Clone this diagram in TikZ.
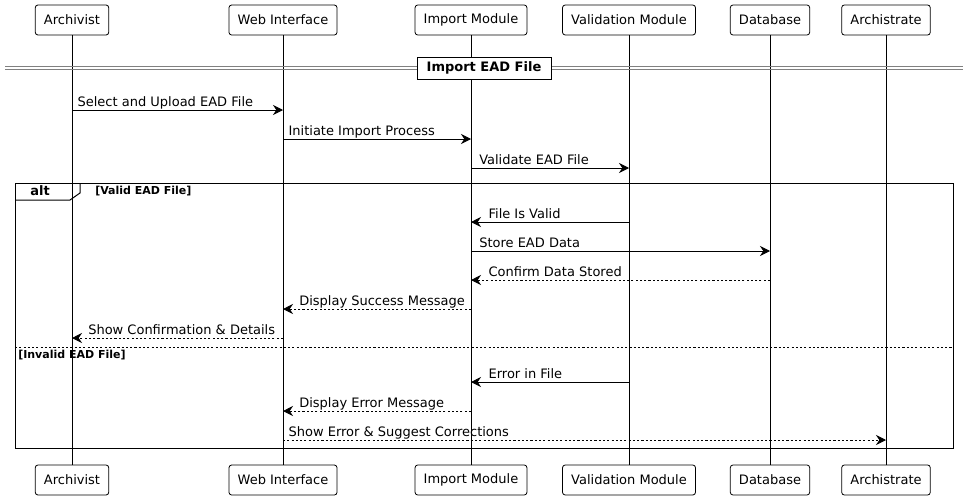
\documentclass[tikz,border=0pt]{standalone}
\usepackage{fontspec}
\setmainfont{DejaVu Sans}
\usetikzlibrary{arrows.meta}
\begin{document}
\begin{tikzpicture}[x=0.75pt,y=-0.75pt,
  part/.style={draw,rounded corners=2pt,fill=white,minimum height=22.5pt,inner xsep=6.5pt,font=\fontsize{9.75}{12}\selectfont,line width=0.6pt},
  life/.style={line width=0.6pt},
  msg/.style={line width=0.6pt,-{Stealth[length=7.5pt,width=7.5pt,inset=2.5pt]}},
  ret/.style={msg,dash pattern=on 1.6pt off 1.6pt},
  lbl/.style={font=\fontsize{9.75}{12}\selectfont,inner sep=0pt,anchor=base west},
  grp/.style={line width=0.75pt},
  glab/.style={font=\bfseries\fontsize{8.25}{10}\selectfont,inner sep=0pt,anchor=base west}
]
\useasboundingbox (0,0) rectangle (968,500);
% participants
\foreach \n/\t/\x in {arch/Archivist/72, web/Web Interface/283, imp/Import Module/471, val/Validation Module/629, db/Database/770, ast/Archistrate/886}{
  \node[part] (\n) at (\x,20) {\t};
  \node[part] (\n b) at (\x,480) {\t};
}
\foreach \n in {arch,web,imp,val,db,ast}{
  \draw[life] (\n.south) -- (\n b.north);
}
% divider
\draw[gray,line width=0.6pt] (5,66) -- (963,66) (5,69) -- (963,69);
\node[draw,fill=white,line width=0.6pt,minimum width=100.5pt,minimum height=16.5pt,inner sep=0pt,font=\bfseries\fontsize{9.75}{12}\selectfont] (div) at (484,68) {Import EAD File};
% messages
\draw[msg] (arch |- 0,110) -- (web |- 0,110);
\node[lbl] (l1) at ([xshift=4]arch |- 0,106) {Select and Upload EAD File};
\draw[msg] (web |- 0,139) -- (imp |- 0,139);
\node[lbl] (l2) at ([xshift=4]web |- 0,135) {Initiate Import Process};
\draw[msg] (imp |- 0,168) -- (val |- 0,168);
\node[lbl] (l3) at ([xshift=6]imp |- 0,164) {Validate EAD File};
% alt frame
\draw[grp] (15,183) rectangle (953,448);
\draw[grp] (15,200) -- (70,200) -- (80,193) -- (80,183);
\node[font=\bfseries\fontsize{9.75}{12}\selectfont,inner sep=0pt,anchor=base] (alt) at (40,195) {alt};
\node[glab] (g1) at (95,194) {[Valid EAD File]};
\draw[msg] (val |- 0,222) -- (imp |- 0,222);
\node[lbl] (l4) at ([xshift=13]imp |- 0,218) {File Is Valid};
\draw[msg] (imp |- 0,251) -- (db |- 0,251);
\node[lbl] (l5) at ([xshift=6]imp |- 0,247) {Store EAD Data};
\draw[ret] (db |- 0,280) -- (imp |- 0,280);
\node[lbl] (l6) at ([xshift=13]imp |- 0,276) {Confirm Data Stored};
\draw[ret] (imp |- 0,309) -- (web |- 0,309);
\node[lbl] (l7) at ([xshift=12]web |- 0,305) {Display Success Message};
\draw[ret] (web |- 0,338) -- (arch |- 0,338);
\node[lbl] (l8) at ([xshift=12]arch |- 0,334) {Show Confirmation \& Details};
\draw[line width=0.6pt,dash pattern=on 1.6pt off 1.6pt] (15,347) -- (953,347);
\node[glab] (g2) at (18,358) {[Invalid EAD File]};
\draw[msg] (val |- 0,382) -- (imp |- 0,382);
\node[lbl] (l9) at ([xshift=13]imp |- 0,378) {Error in File};
\draw[ret] (imp |- 0,411) -- (web |- 0,411);
\node[lbl] (l10) at ([xshift=12]web |- 0,407) {Display Error Message};
\draw[ret] (web |- 0,440) -- (ast |- 0,440);
\node[lbl] (l11) at ([xshift=4]web |- 0,436) {Show Error \& Suggest Corrections};
\end{tikzpicture}
\end{document}
